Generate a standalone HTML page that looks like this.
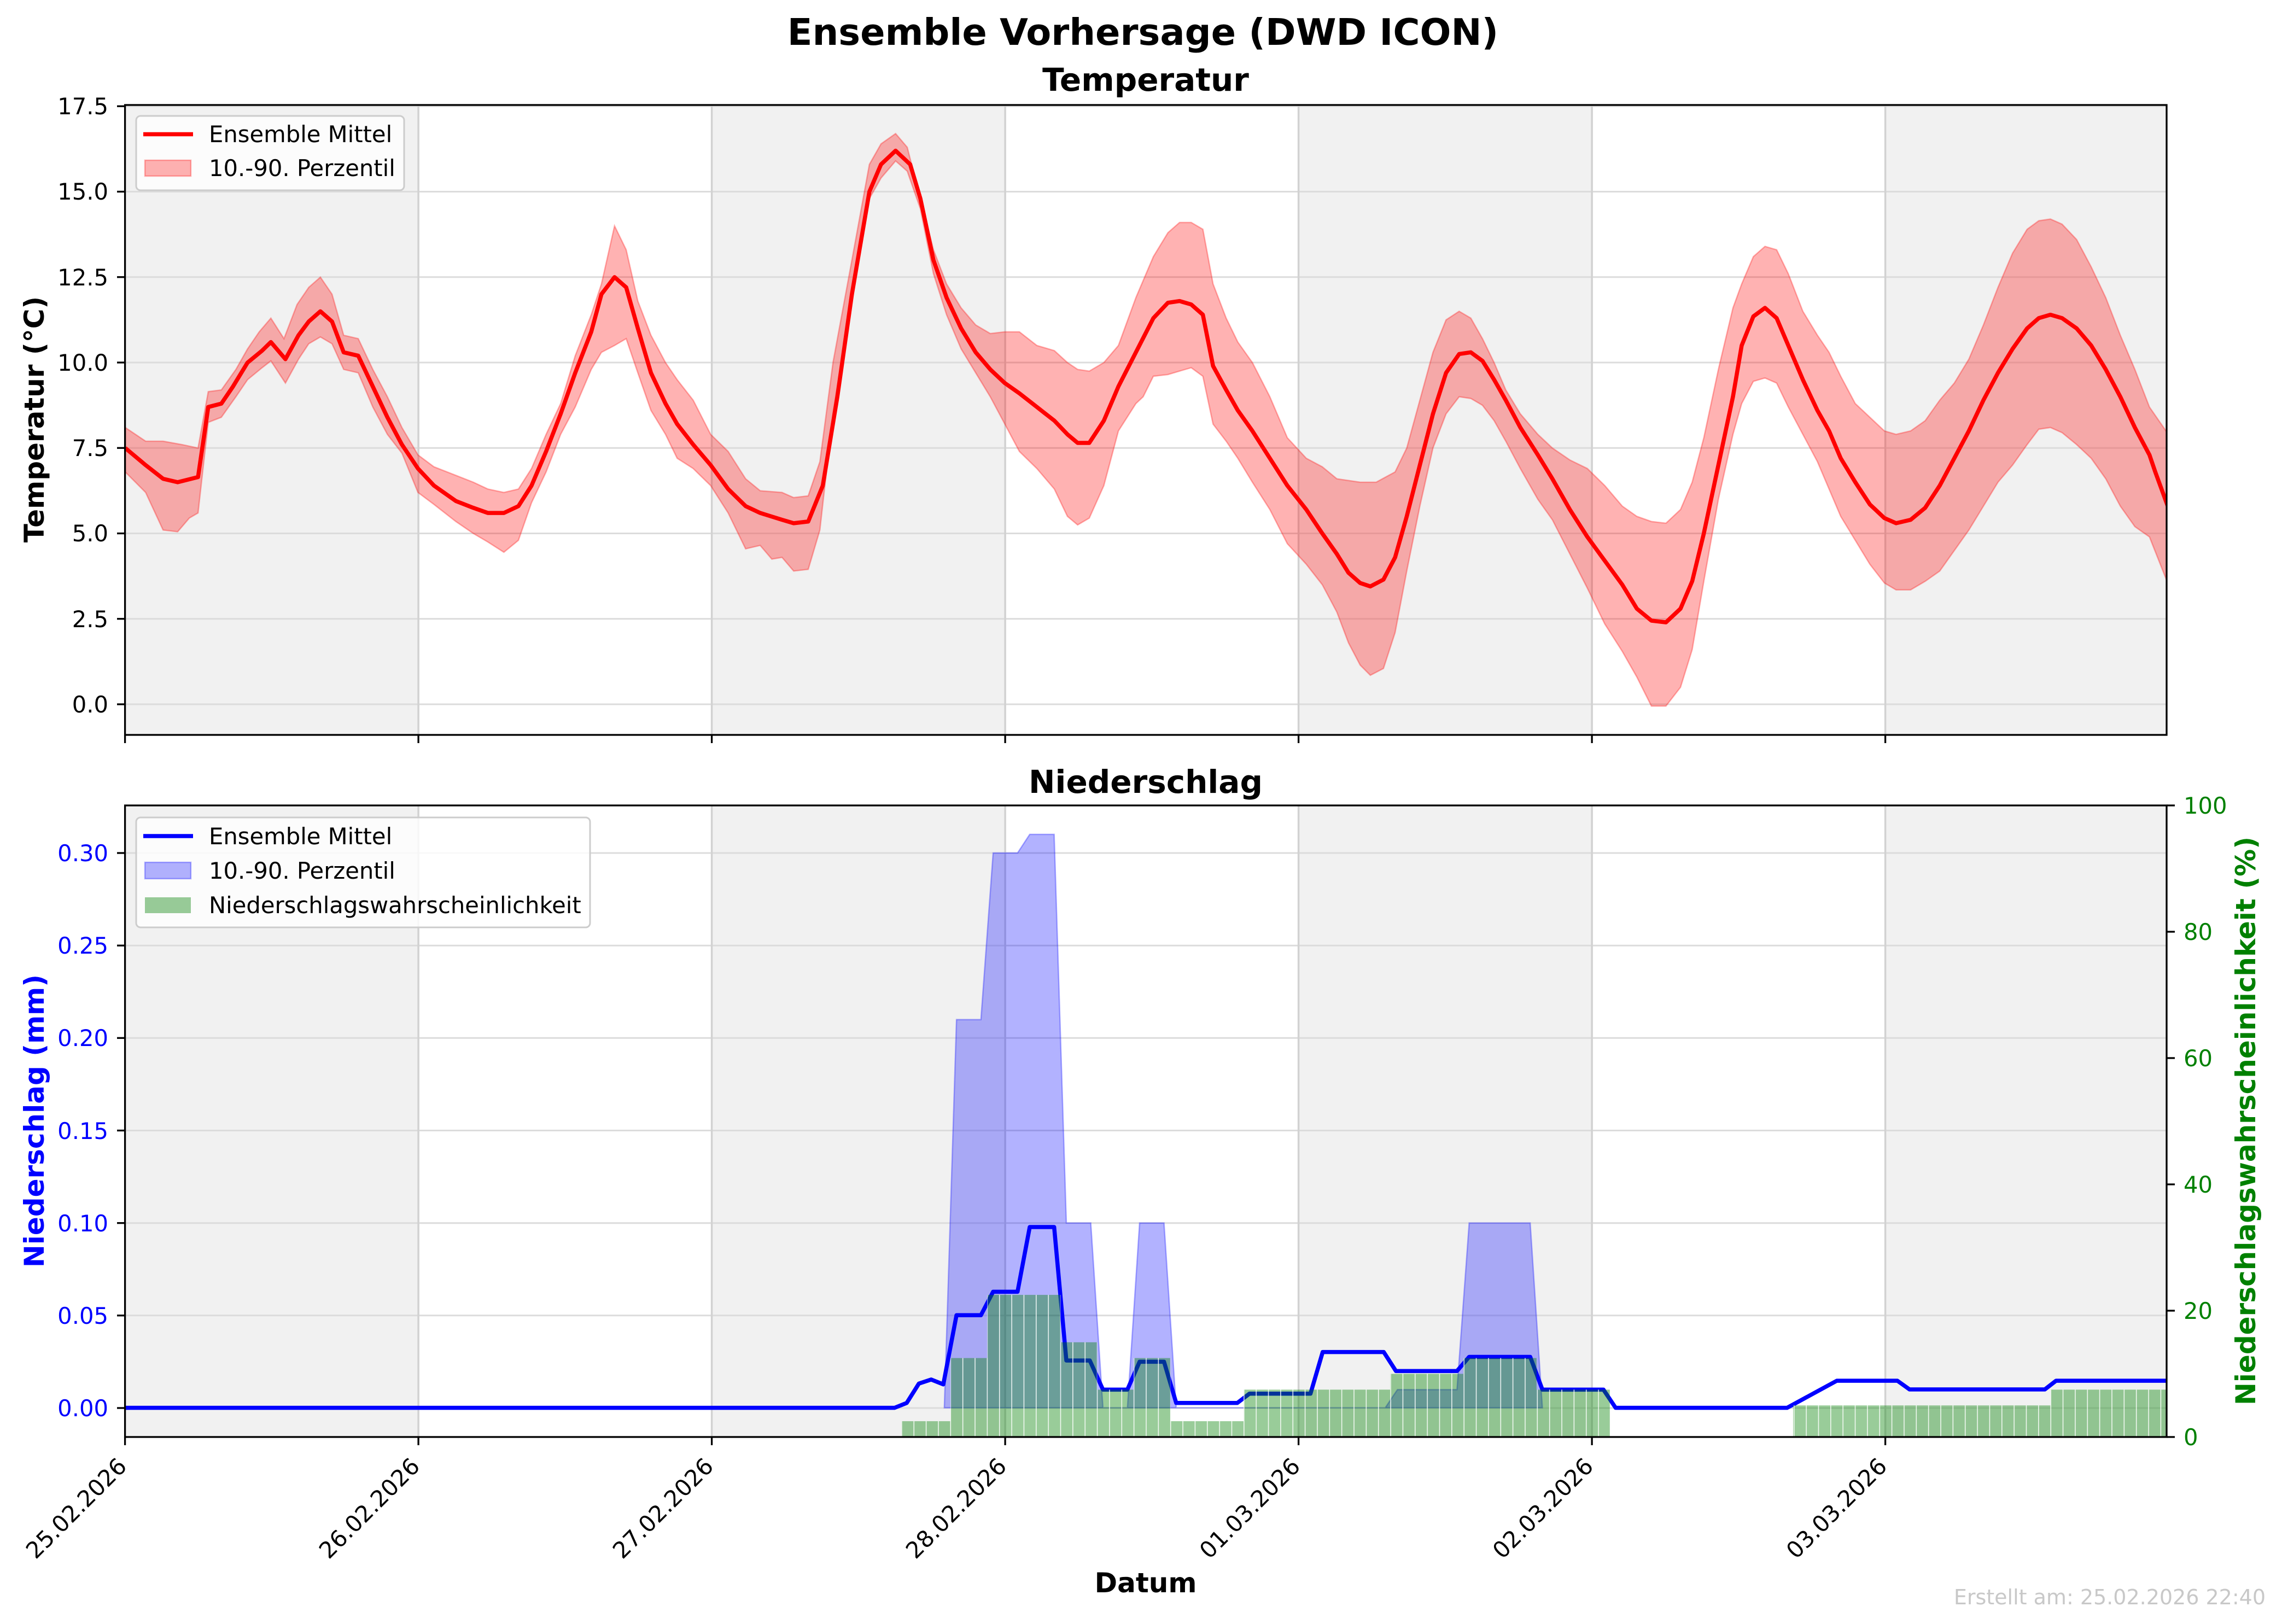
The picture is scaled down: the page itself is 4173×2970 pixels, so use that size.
<!DOCTYPE html>
<html><head><meta charset="utf-8"><style>html,body{margin:0;padding:0;background:#fff}svg{display:block}text{font-family:"DejaVu Sans","Liberation Sans",sans-serif}</style></head><body>
<svg width="4173" height="2970" viewBox="0 0 4173 2970" xmlns="http://www.w3.org/2000/svg">
<defs>
<pattern id="gp" patternUnits="userSpaceOnUse" x="239.8" y="0" width="22.354" height="3000">
<rect x="0" y="0" width="22.354" height="3000" fill="rgba(0,128,0,0.4)"/>
<rect x="0" y="0" width="1.6" height="3000" fill="rgba(255,255,255,0.85)"/>
</pattern>
<clipPath id="c1"><rect x="228.6" y="192" width="3733.4" height="1152"/></clipPath>
<clipPath id="c2"><rect x="228.6" y="1473" width="3733.4" height="1155"/></clipPath>
</defs>
<text x="2090" y="82" font-size="67" font-weight="bold" text-anchor="middle">Ensemble Vorhersage (DWD ICON)</text>

<!-- TOP PLOT -->
<text x="2095" y="166" font-size="58" font-weight="bold" text-anchor="middle">Temperatur</text>
<g fill="#f1f1f1"><rect x="228.6" y="192" width="536.5" height="1152"/><rect x="1301.6" y="192" width="536.5" height="1152"/><rect x="2374.6" y="192" width="536.5" height="1152"/><rect x="3447.6" y="192" width="514.4" height="1152"/></g>
<g stroke="#dcdcdc" stroke-width="3">
<line x1="228.6" x2="3962" y1="1288" y2="1288"/><line x1="228.6" x2="3962" y1="1131.75" y2="1131.75"/><line x1="228.6" x2="3962" y1="975.5" y2="975.5"/><line x1="228.6" x2="3962" y1="819.25" y2="819.25"/><line x1="228.6" x2="3962" y1="663" y2="663"/><line x1="228.6" x2="3962" y1="506.75" y2="506.75"/><line x1="228.6" x2="3962" y1="350.5" y2="350.5"/><line x1="228.6" x2="3962" y1="194.25" y2="194.25"/>
</g>
<g stroke="#d2d2d2" stroke-width="3.5"><line x1="765.1" x2="765.1" y1="192" y2="1344"/><line x1="1301.6" x2="1301.6" y1="192" y2="1344"/><line x1="1838.1" x2="1838.1" y1="192" y2="1344"/><line x1="2374.6" x2="2374.6" y1="192" y2="1344"/><line x1="2911.1" x2="2911.1" y1="192" y2="1344"/><line x1="3447.6" x2="3447.6" y1="192" y2="1344"/></g>
<g clip-path="url(#c1)">
<g transform="scale(2.663) translate(0,483.7) scale(1,-23.47)">
<path fill="rgba(255,0,0,0.3)" stroke="rgba(255,0,0,0.3)" stroke-width="2.5" vector-effect="non-scaling-stroke" d="M86,8.1 L100,7.7 112,7.7 125,7.6 136,7.5 143,9.15 152,9.2 162,9.8 170,10.4 178,10.9 186,11.3 195,10.7 204,11.7 212,12.2 220,12.5 228,12.0 236,10.8 246,10.7 256,9.8 266,9.0 276,8.1 287,7.3 298,6.95 313,6.7 325,6.5 335,6.3 346,6.2 356,6.3 365,6.9 375,7.9 385,8.8 395,10.2 406,11.4 413,12.3 422,14.0 430,13.3 438,11.8 447,10.8 457,10.0 465,9.5 476,8.9 488,7.9 500,7.4 512,6.6 522,6.25 537,6.2 545,6.05 555,6.1 563,7.1 572,10.0 585,13.0 597,15.8 605,16.4 615,16.7 623,16.3 632,14.8 641,13.3 650,12.3 660,11.6 670,11.1 680,10.85 690,10.9 700,10.9 712,10.5 724,10.35 733,10.0 740,9.8 748,9.75 758,10.0 768,10.5 780,11.9 792,13.1 802,13.8 810,14.1 818,14.1 826,13.9 833,12.3 842,11.3 850,10.6 860,10.0 872,9.0 884,7.8 897,7.2 908,6.95 918,6.6 934,6.5 945,6.5 958,6.8 966,7.5 975,8.9 984,10.3 993,11.25 1002,11.5 1010,11.3 1018,10.7 1026,10.0 1034,9.2 1044,8.5 1056,7.9 1066,7.5 1078,7.15 1090,6.9 1102,6.4 1114,5.8 1124,5.5 1134,5.35 1144,5.3 1154,5.7 1162,6.5 1170,7.8 1180,9.8 1190,11.6 1196,12.3 1204,13.1 1212,13.4 1220,13.3 1228,12.6 1238,11.5 1248,10.8 1256,10.3 1264,9.6 1274,8.8 1284,8.4 1294,8.0 1302,7.9 1312,8.0 1322,8.3 1332,8.9 1342,9.4 1352,10.1 1362,11.1 1372,12.2 1382,13.2 1392,13.9 1400,14.15 1408,14.2 1416,14.05 1426,13.6 1436,12.8 1446,11.9 1456,10.8 1466,9.8 1476,8.7 1489,7.9 L1489,3.5 1476,4.9 1466,5.2 1456,5.8 1446,6.6 1436,7.2 1426,7.6 1416,7.95 1408,8.1 1400,8.05 1392,7.6 1382,7.0 1372,6.5 1362,5.8 1352,5.1 1342,4.5 1332,3.9 1322,3.6 1312,3.35 1302,3.35 1294,3.55 1284,4.1 1274,4.8 1264,5.5 1256,6.3 1248,7.1 1238,7.9 1228,8.7 1220,9.4 1212,9.55 1204,9.45 1196,8.8 1190,7.9 1180,6.0 1170,3.6 1162,1.6 1154,0.5 1144,-0.05 1134,-0.05 1124,0.8 1114,1.55 1102,2.35 1090,3.4 1078,4.4 1066,5.4 1056,6.0 1044,6.9 1034,7.7 1026,8.3 1018,8.75 1010,8.95 1002,9.0 993,8.5 984,7.5 975,5.8 966,3.9 958,2.1 950,1.05 941,0.85 934,1.15 926,1.8 918,2.7 908,3.5 897,4.1 884,4.7 872,5.7 860,6.5 850,7.2 842,7.7 833,8.2 826,9.6 818,9.85 810,9.75 802,9.65 792,9.6 785,9.0 780,8.8 768,8.0 758,6.4 748,5.45 740,5.25 733,5.5 724,6.3 712,6.9 700,7.4 690,8.2 680,9.0 670,9.7 660,10.4 650,11.4 641,12.6 632,14.5 623,15.6 615,15.9 605,15.4 597,14.8 585,12.0 572,8.5 563,5.1 555,3.95 545,3.9 537,4.3 530,4.25 522,4.65 512,4.55 500,5.6 488,6.4 476,6.9 465,7.2 457,7.9 447,8.6 438,9.7 430,10.7 422,10.5 413,10.3 406,9.8 395,8.7 385,7.9 375,6.8 365,5.9 356,4.8 346,4.45 335,4.75 325,5.0 313,5.35 298,5.85 287,6.2 276,7.35 266,7.9 256,8.7 246,9.7 236,9.8 228,10.55 220,10.75 212,10.55 205,10.1 196,9.4 186,10.05 180,9.85 170,9.5 162,9.0 152,8.4 143,8.25 136,5.6 130,5.45 122,5.05 112,5.1 100,6.2 86,6.8 Z"/>
<path fill="none" stroke="#ff0000" stroke-width="7.5" stroke-linejoin="round" vector-effect="non-scaling-stroke" d="M86,7.5 L100,7.0 112,6.6 122,6.5 136,6.65 143,8.7 152,8.8 160,9.3 170,10.0 180,10.35 186,10.6 196,10.1 205,10.8 212,11.2 220,11.5 228,11.2 236,10.3 246,10.2 256,9.3 266,8.4 276,7.6 287,6.9 298,6.4 313,5.95 325,5.75 335,5.6 346,5.6 356,5.8 365,6.4 375,7.4 385,8.5 395,9.7 406,10.9 413,12.0 422,12.5 430,12.2 438,11.0 447,9.7 457,8.8 465,8.2 476,7.6 488,7.0 500,6.3 512,5.8 522,5.6 537,5.4 545,5.3 555,5.35 565,6.4 575,9.0 585,12.0 597,15.0 605,15.8 615,16.2 625,15.8 632,14.8 641,13.0 650,11.9 660,11.0 670,10.3 680,9.8 690,9.4 700,9.1 712,8.7 724,8.3 733,7.9 740,7.65 748,7.65 758,8.3 768,9.3 780,10.3 792,11.3 802,11.75 810,11.8 818,11.7 826,11.4 833,9.9 842,9.2 850,8.6 860,8.0 872,7.2 884,6.4 897,5.7 908,5.0 918,4.4 926,3.85 934,3.55 941,3.45 950,3.65 958,4.3 966,5.5 975,7.0 984,8.5 993,9.7 1002,10.25 1010,10.3 1018,10.05 1026,9.5 1034,8.9 1044,8.1 1056,7.3 1066,6.6 1078,5.7 1090,4.9 1102,4.2 1114,3.5 1124,2.8 1134,2.45 1144,2.4 1154,2.8 1162,3.6 1170,5.0 1180,7.0 1190,9.0 1196,10.5 1204,11.35 1212,11.6 1220,11.3 1228,10.5 1238,9.5 1248,8.6 1256,8.0 1264,7.2 1274,6.5 1284,5.85 1294,5.45 1302,5.3 1312,5.4 1322,5.75 1332,6.4 1342,7.2 1352,8.0 1362,8.9 1372,9.7 1382,10.4 1392,11.0 1400,11.3 1408,11.4 1416,11.3 1426,11.0 1436,10.5 1446,9.8 1456,9.0 1466,8.1 1476,7.3 1480,6.8 1489,5.75"/>
</g></g>
<rect x="228.6" y="192" width="3733.4" height="1152" fill="none" stroke="#000" stroke-width="3.3"/>
<g stroke="#000" stroke-width="3.3">
<line x1="214" x2="228.6" y1="1288" y2="1288"/><line x1="214" x2="228.6" y1="1131.75" y2="1131.75"/><line x1="214" x2="228.6" y1="975.5" y2="975.5"/><line x1="214" x2="228.6" y1="819.25" y2="819.25"/><line x1="214" x2="228.6" y1="663" y2="663"/><line x1="214" x2="228.6" y1="506.75" y2="506.75"/><line x1="214" x2="228.6" y1="350.5" y2="350.5"/><line x1="214" x2="228.6" y1="194.25" y2="194.25"/>
<line x1="228.6" x2="228.6" y1="1344" y2="1359"/><line x1="765.1" x2="765.1" y1="1344" y2="1359"/><line x1="1301.6" x2="1301.6" y1="1344" y2="1359"/><line x1="1838.1" x2="1838.1" y1="1344" y2="1359"/><line x1="2374.6" x2="2374.6" y1="1344" y2="1359"/><line x1="2911.1" x2="2911.1" y1="1344" y2="1359"/><line x1="3447.6" x2="3447.6" y1="1344" y2="1359"/>
</g>
<g font-size="41.7" text-anchor="end">
<text x="198" y="1303">0.0</text><text x="198" y="1147">2.5</text><text x="198" y="990">5.0</text><text x="198" y="834">7.5</text><text x="198" y="678">10.0</text><text x="198" y="522">12.5</text><text x="198" y="365">15.0</text><text x="198" y="209">17.5</text>
</g>
<text transform="translate(80,767) rotate(-90)" font-size="50" font-weight="bold" text-anchor="middle">Temperatur (°C)</text>
<rect x="249" y="212" width="490" height="136" rx="8" fill="rgba(255,255,255,0.8)" stroke="#cccccc" stroke-width="3"/>
<line x1="262" x2="353" y1="245.5" y2="245.5" stroke="#ff0000" stroke-width="7.5"/>
<text x="382" y="260" font-size="41.7">Ensemble Mittel</text>
<rect x="265" y="293" width="84" height="29" fill="rgba(255,0,0,0.3)" stroke="rgba(255,0,0,0.3)" stroke-width="2.5"/>
<text x="382" y="322" font-size="41.7">10.-90. Perzentil</text>

<!-- BOTTOM PLOT -->
<text x="2095" y="1450" font-size="58" font-weight="bold" text-anchor="middle">Niederschlag</text>
<g fill="#f1f1f1"><rect x="228.6" y="1473" width="536.5" height="1155"/><rect x="1301.6" y="1473" width="536.5" height="1155"/><rect x="2374.6" y="1473" width="536.5" height="1155"/><rect x="3447.6" y="1473" width="514.4" height="1155"/></g>
<g stroke="#dcdcdc" stroke-width="3">
<line x1="228.6" x2="3962" y1="2575" y2="2575"/><line x1="228.6" x2="3962" y1="2405.8" y2="2405.8"/><line x1="228.6" x2="3962" y1="2236.7" y2="2236.7"/><line x1="228.6" x2="3962" y1="2067.5" y2="2067.5"/><line x1="228.6" x2="3962" y1="1898.3" y2="1898.3"/><line x1="228.6" x2="3962" y1="1729.2" y2="1729.2"/><line x1="228.6" x2="3962" y1="1560" y2="1560"/>
</g>
<g stroke="#d2d2d2" stroke-width="3.5"><line x1="765.1" x2="765.1" y1="1473" y2="2628"/><line x1="1301.6" x2="1301.6" y1="1473" y2="2628"/><line x1="1838.1" x2="1838.1" y1="1473" y2="2628"/><line x1="2374.6" x2="2374.6" y1="1473" y2="2628"/><line x1="2911.1" x2="2911.1" y1="1473" y2="2628"/><line x1="3447.6" x2="3447.6" y1="1473" y2="2628"/></g>
<g clip-path="url(#c2)">
<g transform="translate(1600,1480) scale(0.892857,0.739645)">
<path fill="rgba(0,0,255,0.3)" stroke="rgba(0,0,255,0.3)" stroke-width="2.5" vector-effect="non-scaling-stroke" d="M142,1480 L167,520 217,520 242,108 292,108 317,62 367,62 392,1023 442,1023 467,1480 517,1480 542,1023 592,1023 617,1480 1045,1480 1070,1435 1192,1435 1217,1023 1342,1023 1367,1480 Z"/>
<path fill="none" stroke="#0000ff" stroke-width="7.5" stroke-linejoin="round" vector-effect="non-scaling-stroke" d="M-1540,1480 L40,1480 65,1468 90,1420 115,1410 140,1422 167,1251 217,1251 242,1193 292,1193 317,1033 367,1033 392,1363 440,1363 467,1435 517,1435 542,1366 592,1366 617,1468 742,1468 767,1445 892,1445 917,1342 1042,1342 1067,1389 1192,1389 1217,1354 1342,1354 1367,1435 1492,1435 1517,1480 1868,1480 1970,1413 2094,1413 2119,1434.5 2396,1434.5 2419,1413 2650,1413"/>
</g>
<g fill="url(#gp)">
<rect x="1648.2" y="2599.1" width="90.2" height="28.9"/>
<rect x="1738.4" y="2483.6" width="67" height="144.4"/>
<rect x="1805.4" y="2368.1" width="133.9" height="259.9"/>
<rect x="1939.3" y="2454.75" width="67" height="173.25"/>
<rect x="2006.3" y="2541.4" width="66.9" height="86.6"/>
<rect x="2073.2" y="2483.6" width="67" height="144.4"/>
<rect x="2140.2" y="2599.1" width="133.9" height="28.9"/>
<rect x="2274.1" y="2541.4" width="267.9" height="86.6"/>
<rect x="2542" y="2512.5" width="133.9" height="115.5"/>
<rect x="2675.9" y="2483.6" width="133.9" height="144.4"/>
<rect x="2809.8" y="2541.4" width="134" height="86.6"/>
<rect x="3279" y="2570.25" width="471" height="57.75"/>
<rect x="3750" y="2541.4" width="212" height="86.6"/>
</g>
</g>
<rect x="228.6" y="1473" width="3733.4" height="1155" fill="none" stroke="#000" stroke-width="3.3"/>
<g stroke="#000" stroke-width="3.3">
<line x1="214" x2="228.6" y1="2575" y2="2575"/><line x1="214" x2="228.6" y1="2405.8" y2="2405.8"/><line x1="214" x2="228.6" y1="2236.7" y2="2236.7"/><line x1="214" x2="228.6" y1="2067.5" y2="2067.5"/><line x1="214" x2="228.6" y1="1898.3" y2="1898.3"/><line x1="214" x2="228.6" y1="1729.2" y2="1729.2"/><line x1="214" x2="228.6" y1="1560" y2="1560"/>
<line x1="3962" x2="3977" y1="2628" y2="2628"/><line x1="3962" x2="3977" y1="2397" y2="2397"/><line x1="3962" x2="3977" y1="2166" y2="2166"/><line x1="3962" x2="3977" y1="1935" y2="1935"/><line x1="3962" x2="3977" y1="1704" y2="1704"/><line x1="3962" x2="3977" y1="1473" y2="1473"/>
<line x1="228.6" x2="228.6" y1="2628" y2="2643"/><line x1="765.1" x2="765.1" y1="2628" y2="2643"/><line x1="1301.6" x2="1301.6" y1="2628" y2="2643"/><line x1="1838.1" x2="1838.1" y1="2628" y2="2643"/><line x1="2374.6" x2="2374.6" y1="2628" y2="2643"/><line x1="2911.1" x2="2911.1" y1="2628" y2="2643"/><line x1="3447.6" x2="3447.6" y1="2628" y2="2643"/>
</g>
<g font-size="41.7" text-anchor="end" fill="#0000ff">
<text x="198" y="2590">0.00</text><text x="198" y="2421">0.05</text><text x="198" y="2252">0.10</text><text x="198" y="2083">0.15</text><text x="198" y="1913">0.20</text><text x="198" y="1744">0.25</text><text x="198" y="1575">0.30</text>
</g>
<g font-size="41.7" fill="#008000">
<text x="3993" y="2643">0</text><text x="3993" y="2412">20</text><text x="3993" y="2181">40</text><text x="3993" y="1950">60</text><text x="3993" y="1719">80</text><text x="3993" y="1488">100</text>
</g>
<text transform="translate(80,2050) rotate(-90)" font-size="50" font-weight="bold" text-anchor="middle" fill="#0000ff">Niederschlag (mm)</text>
<text transform="translate(4124,2050) rotate(-90)" font-size="50" font-weight="bold" text-anchor="middle" fill="#008000">Niederschlagswahrscheinlichkeit (%)</text>
<g font-size="41.7" text-anchor="end">
<text transform="translate(212,2662) rotate(-45)" dominant-baseline="hanging">25.02.2026</text>
<text transform="translate(748,2662) rotate(-45)" dominant-baseline="hanging">26.02.2026</text>
<text transform="translate(1285,2662) rotate(-45)" dominant-baseline="hanging">27.02.2026</text>
<text transform="translate(1821,2662) rotate(-45)" dominant-baseline="hanging">28.02.2026</text>
<text transform="translate(2358,2662) rotate(-45)" dominant-baseline="hanging">01.03.2026</text>
<text transform="translate(2894,2662) rotate(-45)" dominant-baseline="hanging">02.03.2026</text>
<text transform="translate(3431,2662) rotate(-45)" dominant-baseline="hanging">03.03.2026</text>
</g>
<text x="2095" y="2912" font-size="50" font-weight="bold" text-anchor="middle">Datum</text>
<rect x="249" y="1495" width="830" height="201" rx="8" fill="rgba(255,255,255,0.8)" stroke="#cccccc" stroke-width="3"/>
<line x1="262" x2="353" y1="1529" y2="1529" stroke="#0000ff" stroke-width="7.5"/>
<text x="382" y="1544" font-size="41.7">Ensemble Mittel</text>
<rect x="265" y="1577" width="84" height="30" fill="rgba(0,0,255,0.3)" stroke="rgba(0,0,255,0.3)" stroke-width="2.5"/>
<text x="382" y="1607" font-size="41.7">10.-90. Perzentil</text>
<rect x="265" y="1641" width="84" height="29" fill="rgba(0,128,0,0.4)"/>
<text x="382" y="1670" font-size="41.7">Niederschlagswahrscheinlichkeit</text>
<text x="4143" y="2934" font-size="38" fill="#c8c8c8" text-anchor="end">Erstellt am: 25.02.2026 22:40</text>
</svg>
</body></html>
